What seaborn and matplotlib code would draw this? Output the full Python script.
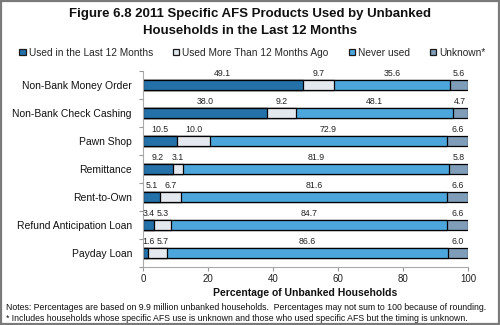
import matplotlib
matplotlib.use("Agg")
import matplotlib.pyplot as plt
from matplotlib.patches import Patch, Rectangle
import numpy as np
import pandas as pd
import seaborn as sns

# Data
categories = ["Non-Bank Money Order", "Non-Bank Check Cashing", "Pawn Shop",
              "Remittance", "Rent-to-Own", "Refund Anticipation Loan", "Payday Loan"]
series_names = ["Used in the Last 12 Months", "Used More Than 12 Months Ago",
                "Never used", "Unknown*"]
used_last_12 = [49.1, 38.0, 10.5, 9.2, 5.1, 3.4, 1.6]
used_before_12 = [9.7, 9.2, 10.0, 3.1, 6.7, 5.3, 5.7]
never_used = [35.6, 48.1, 72.9, 81.9, 81.6, 84.7, 86.6]
unknown = [5.6, 4.7, 6.6, 5.8, 6.6, 6.6, 6.0]
x_ticks = [0, 20, 40, 60, 80, 100]

colors = ["#2470A8", "#E4E9F0", "#4CA6DC", "#7F9DB8"]

sns.set_theme(style="white")
plt.rcParams["font.family"] = ["Liberation Sans", "DejaVu Sans"]

values = np.array([used_last_12, used_before_12, never_used, unknown])
cum = np.cumsum(values, axis=0)

fig = plt.figure(figsize=(5, 3.25), dpi=100)
ax = fig.add_axes([0.286, 0.178, 0.65, 0.604])

# Stacked bars: draw cumulative totals from the outermost segment inward
for i in range(len(series_names) - 1, -1, -1):
    df = pd.DataFrame({"category": categories, "value": cum[i]})
    sns.barplot(data=df, x="value", y="category", orient="h", color=colors[i],
                edgecolor="black", linewidth=0.9, width=0.38, saturation=1,
                ax=ax, order=categories)

# Value labels above each segment
min_gap = 4.4
for r, cat in enumerate(categories):
    starts = np.concatenate([[0], cum[:-1, r]])
    centers = starts + values[:, r] / 2
    pos = []
    for j, c in enumerate(centers):
        if j == 0:
            c = max(c, 1.8)
        else:
            c = max(c, pos[-1] + min_gap)
        pos.append(c)
    for j in range(len(series_names)):
        ax.text(pos[j], r - 0.26, f"{values[j, r]:.1f}", ha="center", va="bottom",
                fontsize=6.3, color="#222222")

ax.set_xlim(0, 100)
ax.set_ylim(len(categories) - 0.5, -0.5)
ax.set_xticks(x_ticks)
ax.set_xticklabels([str(t) for t in x_ticks], fontsize=7, color="#222222")
ax.set_yticks(range(len(categories)))
ax.set_yticklabels(categories, fontsize=7.5, color="#111111")
ax.set_yticks(np.arange(-0.5, len(categories), 1.0), minor=True)
ax.tick_params(axis="y", which="major", length=0, pad=8)
ax.tick_params(axis="y", which="minor", length=3, color="#999999", width=0.8, direction="out", left=True)
ax.tick_params(axis="x", which="major", length=3, color="#999999", width=0.8, direction="out", bottom=True, pad=2)
ax.set_xlabel("Percentage of Unbanked Households", fontsize=7.5, fontweight="bold",
              color="#111111", labelpad=3)
ax.set_ylabel("")
for side in ["top", "right"]:
    ax.spines[side].set_visible(False)
for side in ["left", "bottom"]:
    ax.spines[side].set_color("#AAAAAA")
    ax.spines[side].set_linewidth(0.8)

# Title (two lines)
title_lines = ["Figure 6.8 2011 Specific AFS Products Used by Unbanked",
               "Households in the Last 12 Months"]
for k, line in enumerate(title_lines):
    fig.text(0.5, 0.958 - k * 0.053, line, ha="center", va="center", fontsize=9.5,
             fontweight="bold", color="#111111")

# Legend
handles = [Patch(facecolor=c, edgecolor="#1a1a1a", linewidth=0.9) for c in colors]
fig.legend(handles, series_names, loc="center", bbox_to_anchor=(0.505, 0.838), ncol=4,
           frameon=False, fontsize=7.3, handlelength=0.6, handleheight=0.6,
           handletextpad=0.3, columnspacing=2.0, borderaxespad=0)

# Notes
fig.text(0.012, 0.055, "Notes: Percentages are based on 9.9 million unbanked households.  "
         "Percentages may not sum to 100 because of rounding.",
         ha="left", va="center", fontsize=6.3, color="#111111")
fig.text(0.012, 0.021, "* Includes households whose specific AFS use is unknown and those who "
         "used specific AFS but the timing is unknown.",
         ha="left", va="center", fontsize=6.3, color="#111111")

# Figure border
fig.patches.append(Rectangle((0.002, 0.003), 0.996, 0.994, transform=fig.transFigure,
                             fill=False, edgecolor="#7a7a7a", linewidth=1.6))

fig.savefig("out.png", dpi=100)
